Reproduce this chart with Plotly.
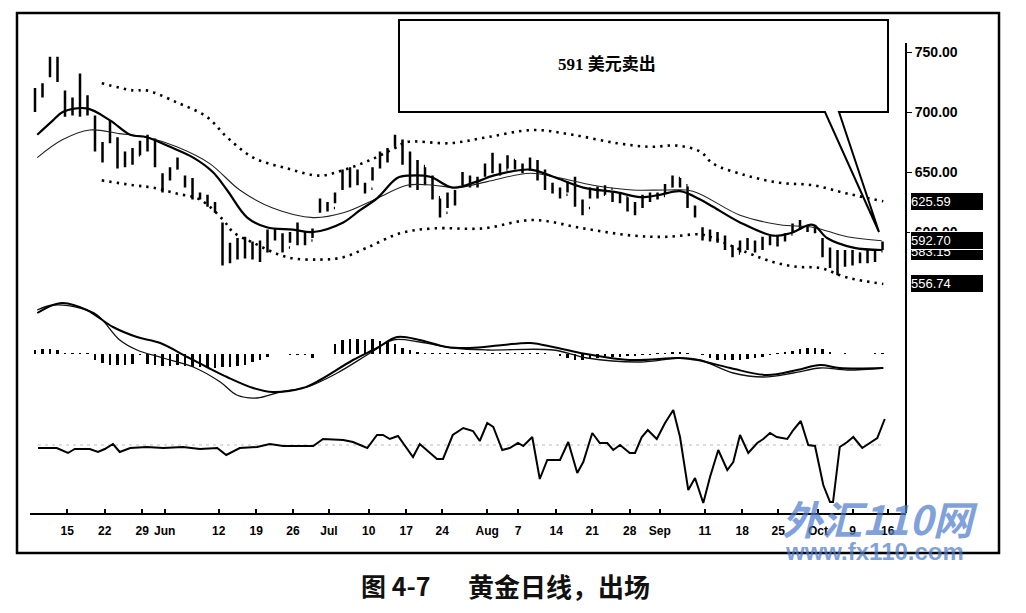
import plotly.graph_objects as go

# ---------------- data ----------------
# trading-day index for each price bar
bar_day = list(range(114))
bar_high = [720,724,746,746,718,712,732,714,697,675,693,679,667,670,676,681,678,649,654,662,
            647,645,633,631,625,608,591,595,596,592,593,602,603,599,600,608,600,603,628,625,
            633,652,654,652,641,654,667,670,681,677,667,660,654,647,628,633,635,650,647,646,
            657,666,657,664,660,657,662,660,652,641,637,642,646,627,637,638,639,633,633,629,
            625,631,633,633,640,647,645,638,622,604,602,600,597,589,593,595,593,596,597,597,
            599,607,610,606,606,595,587,585,585,585,583,585,585,592]
bar_low = [700,712,729,725,696,697,696,697,667,658,674,653,654,656,664,667,654,633,643,652,
           637,627,627,621,616,572,574,577,578,577,575,583,593,583,591,589,589,595,616,617,
           624,635,637,639,632,643,653,658,671,656,637,635,639,627,612,620,622,639,637,637,
           646,649,647,653,652,649,652,643,635,632,628,633,621,614,628,628,631,625,624,617,
           614,620,625,627,632,637,637,620,612,593,592,591,585,579,583,585,583,585,589,588,
           592,600,602,600,599,579,570,564,571,572,574,574,575,585]
bar_open = [703,714,731,741,715,700,708,703,695,672,676,677,657,663,664,672,675,647,645,653,
            645,640,631,628,623,606,577,586,580,590,579,588,598,595,587,596,599,593,617,624,
            620,636,648,641,640,636,654,664,672,676,660,641,655,643,629,616,629,640,646,640,
            647,654,656,652,660,655,652,659,646,639,634,631,639,624,620,634,631,636,627,629,
            618,622,628,631,630,638,645,639,621,603,594,599,594,586,582,590,588,590,594,591,
            595,598,605,603,601,594,582,573,582,576,582,577,583,584]
bar_close = [716,721,742,728,700,709,702,710,670,662,690,656,664,659,673,676,657,636,652,658,
             639,629,629,623,618,576,588,580,593,579,590,600,596,586,597,600,592,601,626,619,
             631,649,640,650,634,652,665,667,678,659,640,656,642,630,615,630,633,648,640,644,
             655,662,650,661,655,651,660,646,638,634,630,640,623,617,634,630,637,627,630,619,
             623,628,631,629,638,645,639,622,614,595,600,593,587,581,591,587,591,594,591,595,
             597,605,603,601,603,581,573,582,575,583,576,583,580,591]

# short moving average (thick line)
ma_s_day = [0.3,2.4,3.7,6.9,10,12.7,14.9,18,21.1,23.7,25.6,28.3,30.9,34.4,37.1,41.1,43.3,45.6,48.3,50,
            52.7,55.7,58.9,61.1,66,69.1,73.1,77.6,80.7,83.3,86,88.7,90.4,94,98.4,100.7,103.7,105.6,109.1,112.9]
ma_s_val = [681,693,700,703,693,681,679,671,662,650,635,612,604,602,600,608,618,628,645,647,
            646,637,642,647,652,646,637,633,629,631,634,627,621,608,597,599,606,595,587,585]

# long moving average (thin line)
ma_l_day = [0.3,3.7,7.3,11.3,14.9,18.9,23.3,27.3,31.7,37.1,41.1,45.6,49.6,53.1,56.3,60.3,66,70,74.4,
            79.7,84.3,87.7,94,99.3,103.7,108.3,112.9]
ma_l_val = [662,677,685,682,679,671,657,635,620,612,616,628,639,639,637,642,649,645,639,
            635,635,634,614,606,604,596,592.7]

# upper / lower envelope (dotted)
up_day = [8.9,13.1,14.9,18.9,22.9,25.6,29.1,33.6,38,41.3,44.7,48,49.6,55.3,60.3,66.4,71.7,77.6,82,
          85.6,88.7,90.4,94.9,99.3,103.7,108.3,113.1]
up_val = [724,718,718,708,696,679,662,653,647,652,660,670,675,674,679,685,681,674,671,
          672,667,657,647,641,639,632,625.59]
lo_day = [8.9,13.1,15.7,18.9,22,25.1,26.4,29.1,33.6,38,41.1,44.3,48.7,53.1,59.7,66.4,73.1,79.7,84.3,
          88.7,90.4,94.9,98.4,101.6,104.7,108.3,113.1]
lo_val = [643,639,637,632,627,610,600,591,579,577,579,587,599,603,603,610,603,597,596,
          598,595,583,575,571,570,562,556.74]

# MACD panel
macd_day = [0.3,2.4,3.7,6.9,10.4,13.6,16.7,20.3,22.9,25.6,29.1,31.7,35.7,38,42.4,45.6,48.3,51.3,54.9,
            58,62.4,66,69.1,72.7,79.3,86,88.3,92.7,97.6,101.6,104.7,107.3,113.1]
macd_val = [16.4,19.6,20.4,17.6,10.8,6.8,4.4,-1.2,-5.2,-9.2,-13.6,-15.2,-13.6,-10.4,-2.4,2.4,6.8,5.6,2.8,
            2.4,3.6,4.4,2.8,0.4,-2.4,-1.6,-2.4,-5.6,-8.4,-6.4,-4.4,-5.6,-5.6]
sig_day = [0.3,2.4,6,8.3,11.3,13.6,17.1,21.1,24.7,26.9,29.6,32.7,36.3,40.3,44.7,47.7,51.3,55.7,60.3,
           69.1,73.6,80.7,86,88.7,93.1,97.1,101.1,104.7,108.3,113.1]
sig_val = [17.6,19.6,18.4,15.6,5.6,1.6,-1.6,-5.2,-11.2,-16.4,-17.6,-15.2,-13.2,-7.6,0.4,5.6,4.8,2.4,1.6,
           1.6,-1.6,-3.2,-1.6,-2.4,-7.6,-9.2,-7.6,-5.6,-6.4,-5.6]
hist_val = [1.6,2.0,2.0,1.6, 0.4,0.4,0.4,0.4,
            -2.4,-3.6,-4.4,-4.4,-4.4,-4.0,-0.4,
            -4.0,-4.4,-4.8,-4.8,-4.4,-4.8,-5.2,-5.2,-5.6,-5.6,-5.2,-5.2,-4.8,-4.4,-3.2,-2.4,
            -1.2, 0,0, -0.4,-0.4,-0.4,-1.6, 0,0,
            4.0,5.6,6.0,6.0,5.6,6.0,5.2,4.8,4.0,
            2.4,1.6,0.8,0.4,
            0.4,0.4,0.4,0.4,0.4,0.4,0.4,
            0.4,0.4,0.4,0.4,0.4,0.4,0.4,0.4,0.4, 0,
            -0.8,-1.6,-2.4,-2.4,-2.0,-1.6,-1.6,-1.2,-1.2,-0.8,-0.8,-0.4,-0.4,
            0.4,0.4,0.8,0.8,0.4,0,
            -0.4,-1.6,-2.4,-2.4,-2.4,-2.4,-2.0,-1.6,-1.2,-0.4,
            0.4,0.8,1.2,2.0,2.4,2.4,2.0,0.8,
            0,0.4,0,0,0,0.4,0.4]

# oscillator (bottom panel)
osc_day = [0.4,2.9,4.4,5.3,7.3,8.4,9.3,10.4,11.3,12.7,14.9,17.1,19.7,22,24.3,25.5,27.3,29.6,31.3,33.1,
           37.1,38.4,41.1,42.4,44.3,45.6,46.4,47.3,48.4,50.4,51.3,53.6,54.4,55.7,57.1,58.4,59.3,60.3,61.1,
           62.3,63.3,64.4,65.1,66.3,67.3,68.3,70,71.1,72.3,73.1,74.3,75.3,76.3,77.1,78,79.3,80,80.9,81.7,
           82.9,84,85.1,86,87.1,88,89.1,90,91.1,92.3,93.1,94,95.1,96.3,97.1,98,98.9,100.3,101.1,102.1,
           103.1,104,105.1,106,106.4,107.3,108.3,109.1,110.3,112.3,113.3]
osc_val = [-3,-3,-8,-4,-4,-7,-4,1,-7,-3,-2,-3,-2,-4,-3,-10,-3,-2,1,-1,
           -1,6,5,3,-3,10,10,6,9,-12,1,-14,-14,10,17,14,4,22,18,
           -5,-3,2,-1,8,-34,-15,-15,3,-28,-17,12,2,2,-5,0,-8,-8,8,15,
           6,22,35,8,-45,-33,-58,-32,-5,-25,-17,10,-8,2,6,12,8,6,15,24,
           0,-1,-40,-57,-57,-2,3,8,-3,7,26]

# axis labels
tick_days = [4.3,9.3,14.3,17.3,24.5,29.5,34.4,39.2,44.5,49.5,54.3,60.3,64.4,69.5,74.3,79.3,83.3,
             89.3,94.3,99.1,104.4,109,113.7]
tick_text = ['15','22','29','Jun','12','19','26','Jul','10','17','24','Aug','7','14','21','28','Sep',
             '11','18','25','Oct','9','16']
price_ticks = [600, 650, 700, 750]
price_tick_text = ['600.00', '650.00', '700.00', '750.00']
last_labels = [(625.59, '625.59'), (584.0, '583.15'), (592.70, '592.70'), (556.74, '556.74')]

# ---------------- layout helpers (page pixel -> paper) ----------------
# the page body has an 8px margin, so the figure starts at (8, 8) in the window
OFF = 8
W, H = 1026 - OFF, 613 - OFF
def fx(px):
    return (px - OFF) / W
def fy(py):
    return 1 - (py - OFF) / H

SANS = 'Liberation Sans, Arial, sans-serif'
CJK = 'Noto Sans CJK SC, sans-serif'

fig = go.Figure()

# price bars
fig.add_trace(go.Ohlc(x=bar_day, open=bar_open, high=bar_high, low=bar_low, close=bar_close,
                      increasing=dict(line=dict(color='black', width=2.5)),
                      decreasing=dict(line=dict(color='black', width=2.5)),
                      tickwidth=0.15, xaxis='x', yaxis='y', showlegend=False))
# envelopes
for d, v in ((up_day, up_val), (lo_day, lo_val)):
    fig.add_trace(go.Scatter(x=d, y=v, mode='lines', xaxis='x', yaxis='y',
                             line=dict(color='black', width=2.6, dash='2.4px,5.1px', shape='spline'),
                             showlegend=False))
# moving averages
fig.add_trace(go.Scatter(x=ma_l_day, y=ma_l_val, mode='lines', xaxis='x', yaxis='y',
                         line=dict(color='#222', width=1.1, shape='spline'), showlegend=False))
fig.add_trace(go.Scatter(x=ma_s_day, y=ma_s_val, mode='lines', xaxis='x', yaxis='y',
                         line=dict(color='black', width=2.2, shape='spline'), showlegend=False))

# MACD panel
fig.add_trace(go.Bar(x=bar_day, y=hist_val, width=0.3, marker=dict(color='black', line=dict(width=0)),
                     xaxis='x', yaxis='y2', showlegend=False))
fig.add_trace(go.Scatter(x=sig_day, y=sig_val, mode='lines', xaxis='x', yaxis='y2',
                         line=dict(color='#111', width=1.3, shape='spline'), showlegend=False))
fig.add_trace(go.Scatter(x=macd_day, y=macd_val, mode='lines', xaxis='x', yaxis='y2',
                         line=dict(color='black', width=2, shape='spline'), showlegend=False))

# oscillator panel
fig.add_trace(go.Scatter(x=[osc_day[0], osc_day[-1]], y=[0, 0], mode='lines', xaxis='x', yaxis='y3',
                         line=dict(color='#bbb', width=1, dash='3px,4px'), showlegend=False))
fig.add_trace(go.Scatter(x=osc_day, y=osc_val, mode='lines', xaxis='x', yaxis='y3',
                         line=dict(color='black', width=2), showlegend=False))

shapes = [
    # outer frame
    dict(type='rect', xref='paper', yref='paper', x0=fx(17), x1=fx(999), y0=fy(553), y1=fy(13),
         line=dict(color='black', width=2.5), layer='above'),
    # right axis line
    dict(type='line', xref='paper', yref='paper', x0=fx(906), x1=fx(906), y0=fy(513), y1=fy(43),
         line=dict(color='black', width=2)),
    # callout bubble
    dict(type='path', xref='paper', yref='paper',
         path=(f'M {fx(825)},{fy(112)} L {fx(399)},{fy(112)} L {fx(399)},{fy(20)} '
               f'L {fx(888)},{fy(20)} L {fx(888)},{fy(112)} L {fx(839)},{fy(112)} '
               f'L {fx(879)},{fy(232)} Z'),
         line=dict(color='black', width=2), fillcolor='white', layer='above'),
]

annotations = [
    dict(xref='paper', yref='paper', x=fx(607), y=fy(64), text='<b>591 美元卖出</b>', showarrow=False,
         font=dict(family='Liberation Serif, ' + CJK, size=17, color='black'), xanchor='center', yanchor='middle'),
    dict(xref='paper', yref='paper', x=fx(395), y=fy(585), text='<b>图 4-7</b>', showarrow=False,
         font=dict(family=CJK, size=25, color='#111'), xanchor='center', yanchor='middle'),
    dict(xref='paper', yref='paper', x=fx(559), y=fy(585), text='<b>黄金日线，出场</b>', showarrow=False,
         font=dict(family=CJK, size=26, color='#111'), xanchor='center', yanchor='middle'),
    dict(xref='paper', yref='paper', x=fx(880), y=fy(518), text='<b><i>外汇110网</i></b>', showarrow=False,
         font=dict(family=CJK, size=40, color='rgba(80,125,205,0.72)'), xanchor='center', yanchor='middle'),
    dict(xref='paper', yref='paper', x=fx(874), y=fy(551), text='<b>www.fx110.com</b>', showarrow=False,
         font=dict(family=SANS, size=24, color='rgba(80,125,205,0.72)'), xanchor='center', yanchor='middle'),
]
for val, txt in last_labels:
    annotations.append(dict(xref='paper', yref='y', x=fx(910), y=val, text=txt, showarrow=False,
                            xanchor='left', yanchor='middle', align='left', width=72, height=17,
                            bgcolor='black', borderpad=0, bordercolor='white', borderwidth=1,
                            font=dict(family=SANS, size=13, color='white')))

fig.update_layout(
    width=W, height=H, margin=dict(l=0, r=0, t=0, b=0),
    paper_bgcolor='white', plot_bgcolor='white', showlegend=False, bargap=0,
    xaxis=dict(domain=[fx(30), fx(906)], range=[-0.667, 116.13], anchor='y3',
               tickmode='array', tickvals=tick_days, ticktext=tick_text,
               ticks='inside', ticklen=4, tickwidth=1.5, tickcolor='black',
               showline=True, linecolor='black', linewidth=2, showgrid=False, zeroline=False,
               tickfont=dict(family=SANS, size=12, color='black', weight='bold'),
               ticklabelstandoff=6, rangeslider=dict(visible=False)),
    yaxis=dict(domain=[fy(293), fy(20)], range=[549.17, 776.67], side='right', anchor='x',
               tickmode='array', tickvals=price_ticks, ticktext=price_tick_text,
               ticks='outside', ticklen=5, tickcolor='black', showgrid=False, zeroline=False,
               showline=False, tickfont=dict(family=SANS, size=14, color='black', weight='bold')),
    yaxis2=dict(domain=[fy(405), fy(293)], range=[-20.4, 24.4], anchor='x', visible=False),
    yaxis3=dict(domain=[fy(513), fy(405)], range=[-68, 40], anchor='x', visible=False),
    shapes=shapes, annotations=annotations,
)

fig.write_html('out.html')
